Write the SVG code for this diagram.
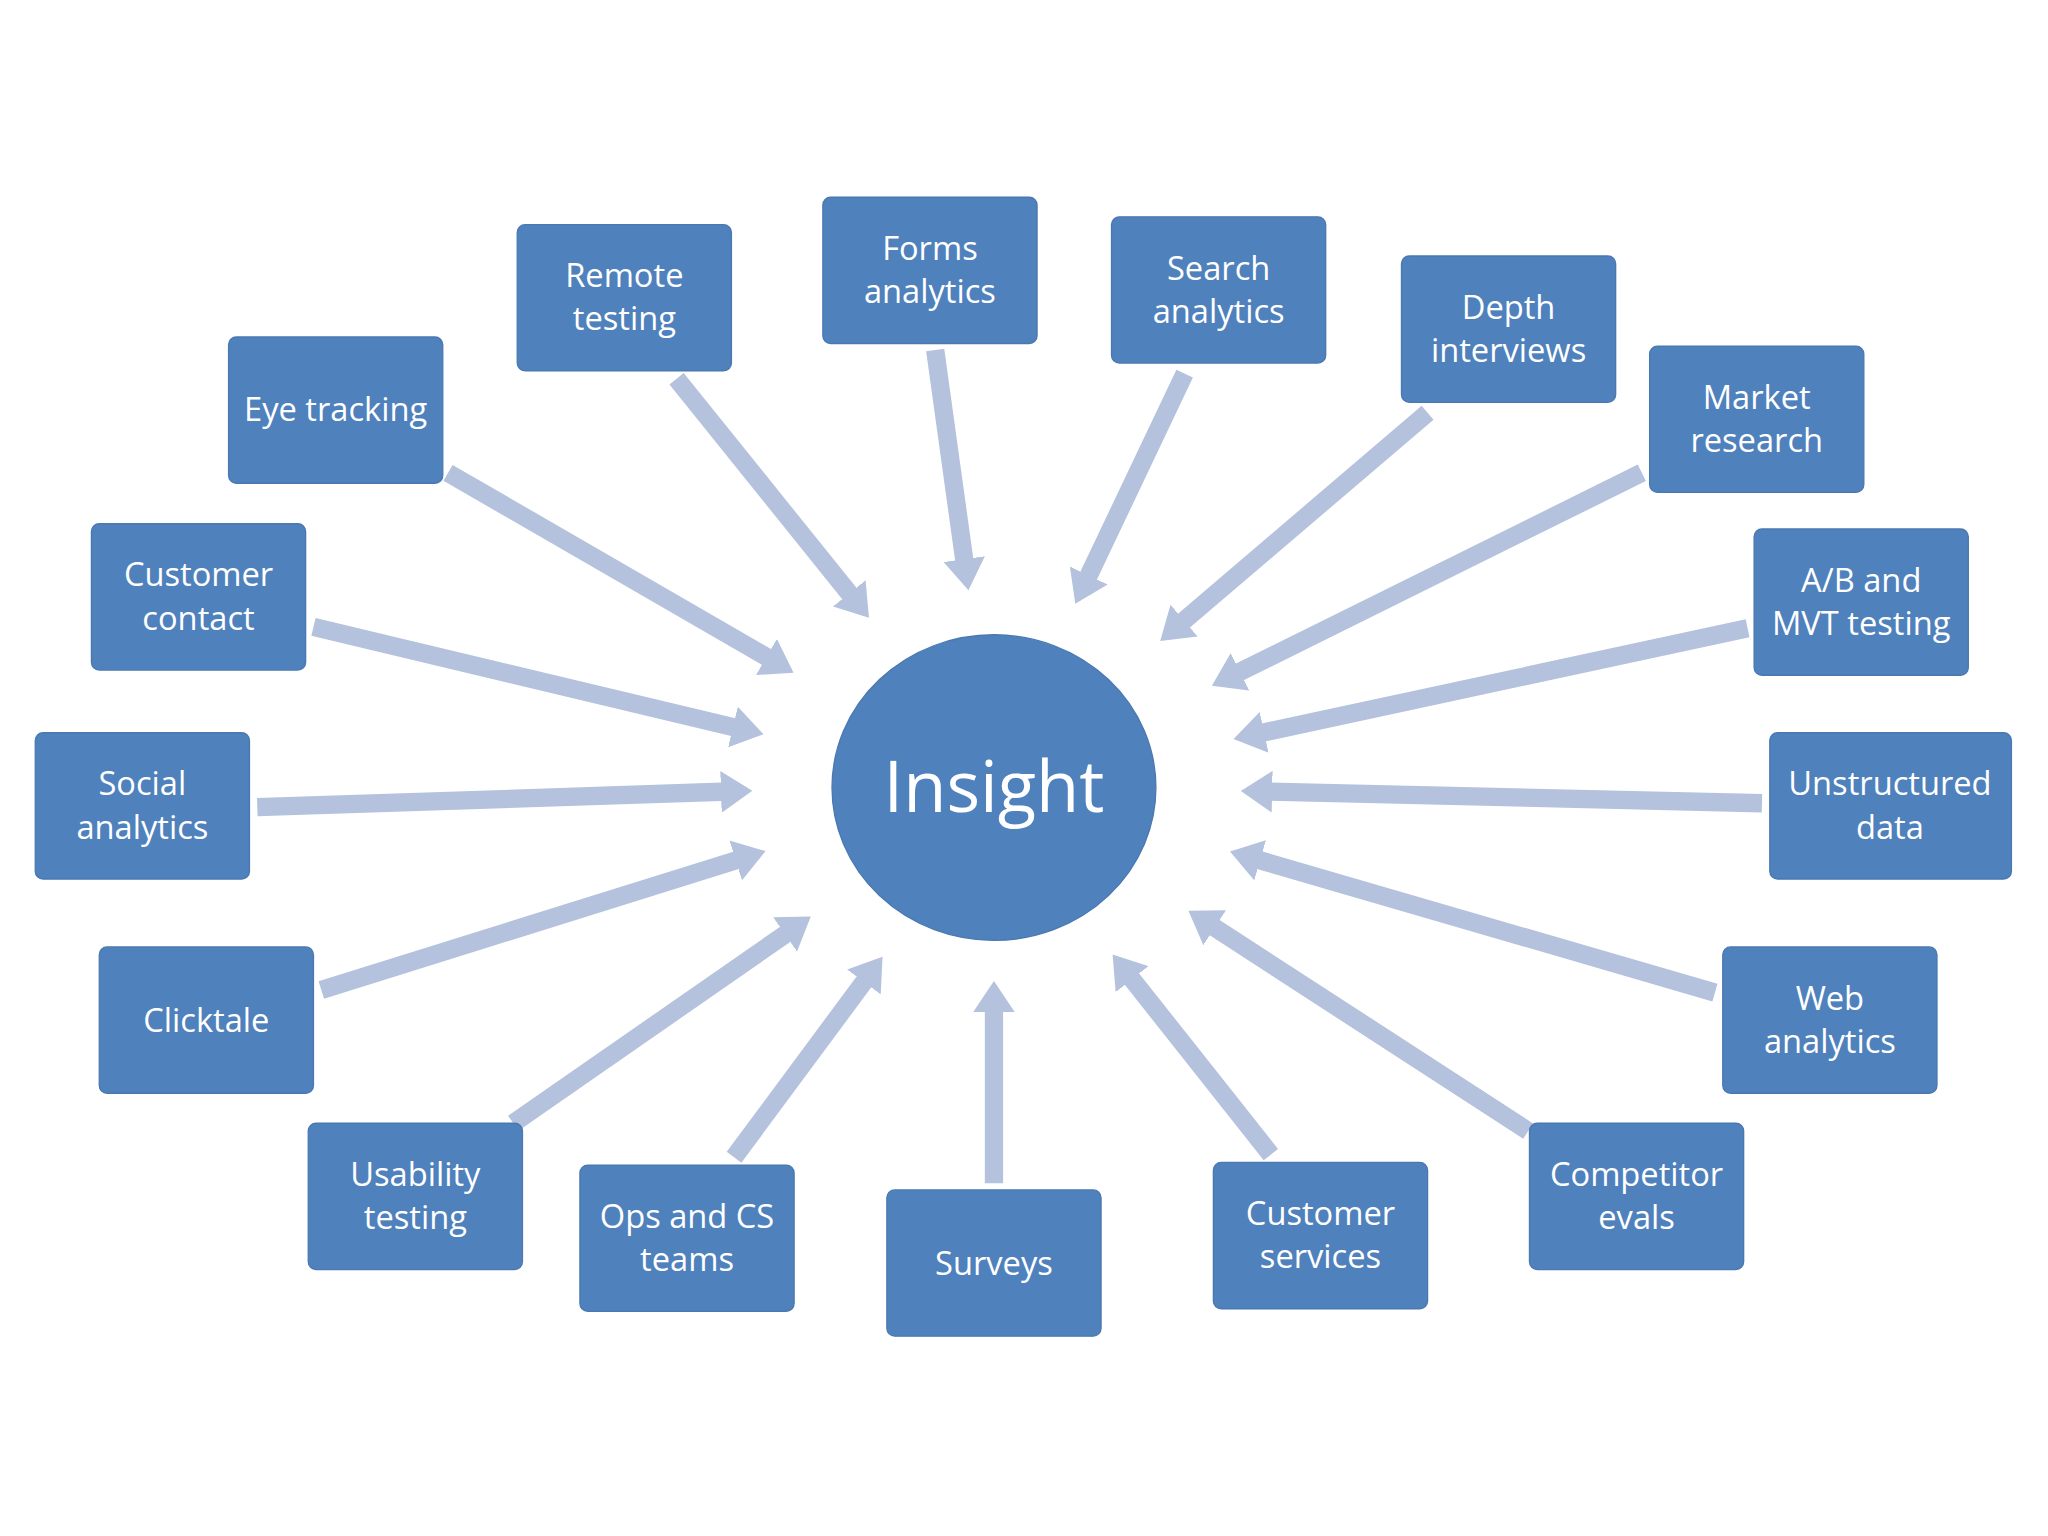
<svg xmlns="http://www.w3.org/2000/svg" width="2048" height="1536" viewBox="0 0 2048 1536">
<style>
.n rect{fill:#4f81bd;stroke:#4a78b0;stroke-width:1}
.n text{fill:#fff;font-family:"Open Sans","DejaVu Sans",sans-serif;font-size:25px;text-anchor:middle}
.c line{stroke:#b4c2dd;stroke-width:14}
</style>
<defs>
<marker id="ah" markerUnits="userSpaceOnUse" markerWidth="30" markerHeight="32" refX="6" refY="16" orient="auto">
<path d="M0,0 L24,16 L0,32 Z" fill="#b4c2dd"/>
</marker>
</defs>
<rect width="2048" height="1536" fill="#fff"/>
<g transform="scale(1.30612)">
<g class="c">
<line x1="343" y1="362" x2="592" y2="506" marker-end="url(#ah)"/>
<line x1="518" y1="290" x2="654" y2="459" marker-end="url(#ah)"/>
<line x1="716" y1="268" x2="739" y2="434" marker-end="url(#ah)"/>
<line x1="907" y1="286" x2="831" y2="446" marker-end="url(#ah)"/>
<line x1="1093" y1="316" x2="902" y2="479" marker-end="url(#ah)"/>
<line x1="1257" y1="362" x2="944" y2="517" marker-end="url(#ah)"/>
<line x1="1338" y1="481" x2="962" y2="562" marker-end="url(#ah)"/>
<line x1="1349" y1="615" x2="968" y2="606" marker-end="url(#ah)"/>
<line x1="1313" y1="760" x2="959" y2="657" marker-end="url(#ah)"/>
<line x1="1170" y1="866" x2="925" y2="707" marker-end="url(#ah)"/>
<line x1="973" y1="884" x2="863" y2="745" marker-end="url(#ah)"/>
<line x1="761" y1="906" x2="761" y2="769" marker-end="url(#ah)"/>
<line x1="562" y1="886" x2="665" y2="747" marker-end="url(#ah)"/>
<line x1="393" y1="860" x2="606" y2="712" marker-end="url(#ah)"/>
<line x1="246" y1="758" x2="569" y2="657" marker-end="url(#ah)"/>
<line x1="197" y1="618" x2="558" y2="606" marker-end="url(#ah)"/>
<line x1="240" y1="480" x2="567" y2="558" marker-end="url(#ah)"/>
</g>
<g id="insight"><ellipse cx="761" cy="603" rx="124" ry="117" fill="#4f81bd" stroke="#4a78b0"/><text x="761" y="622" fill="#fff" font-family="Open Sans, DejaVu Sans, sans-serif" font-size="54" text-anchor="middle">Insight</text></g>
<g id="remote" class="n"><rect x="396" y="172" width="164" height="112" rx="6"/><text x="478" y="220">Remote</text><text x="478" y="253">testing</text></g>
<g id="forms" class="n"><rect x="630" y="151" width="164" height="112" rx="6"/><text x="712" y="199">Forms</text><text x="712" y="232">analytics</text></g>
<g id="search" class="n"><rect x="851" y="166" width="164" height="112" rx="6"/><text x="933" y="214">Search</text><text x="933" y="247">analytics</text></g>
<g id="depth" class="n"><rect x="1073" y="196" width="164" height="112" rx="6"/><text x="1155" y="244">Depth</text><text x="1155" y="277">interviews</text></g>
<g id="market" class="n"><rect x="1263" y="265" width="164" height="112" rx="6"/><text x="1345" y="313">Market</text><text x="1345" y="346">research</text></g>
<g id="ab" class="n"><rect x="1343" y="405" width="164" height="112" rx="6"/><text x="1425" y="453">A/B and</text><text x="1425" y="486">MVT testing</text></g>
<g id="unstructured" class="n"><rect x="1355" y="561" width="185" height="112" rx="6"/><text x="1447" y="609">Unstructured</text><text x="1447" y="642">data</text></g>
<g id="web" class="n"><rect x="1319" y="725" width="164" height="112" rx="6"/><text x="1401" y="773">Web</text><text x="1401" y="806">analytics</text></g>
<g id="competitor" class="n"><rect x="1171" y="860" width="164" height="112" rx="6"/><text x="1253" y="908">Competitor</text><text x="1253" y="941">evals</text></g>
<g id="custserv" class="n"><rect x="929" y="890" width="164" height="112" rx="6"/><text x="1011" y="938">Customer</text><text x="1011" y="971">services</text></g>
<g id="surveys" class="n"><rect x="679" y="911" width="164" height="112" rx="6"/><text x="761" y="976">Surveys</text></g>
<g id="ops" class="n"><rect x="444" y="892" width="164" height="112" rx="6"/><text x="526" y="940">Ops and CS</text><text x="526" y="973">teams</text></g>
<g id="usability" class="n"><rect x="236" y="860" width="164" height="112" rx="6"/><text x="318" y="908">Usability</text><text x="318" y="941">testing</text></g>
<g id="clicktale" class="n"><rect x="76" y="725" width="164" height="112" rx="6"/><text x="158" y="790">Clicktale</text></g>
<g id="social" class="n"><rect x="27" y="561" width="164" height="112" rx="6"/><text x="109" y="609">Social</text><text x="109" y="642">analytics</text></g>
<g id="custcontact" class="n"><rect x="70" y="401" width="164" height="112" rx="6"/><text x="152" y="449">Customer</text><text x="152" y="482">contact</text></g>
<g id="eye" class="n"><rect x="175" y="258" width="164" height="112" rx="6"/><text x="257" y="322">Eye tracking</text></g>
</g>
</svg>
